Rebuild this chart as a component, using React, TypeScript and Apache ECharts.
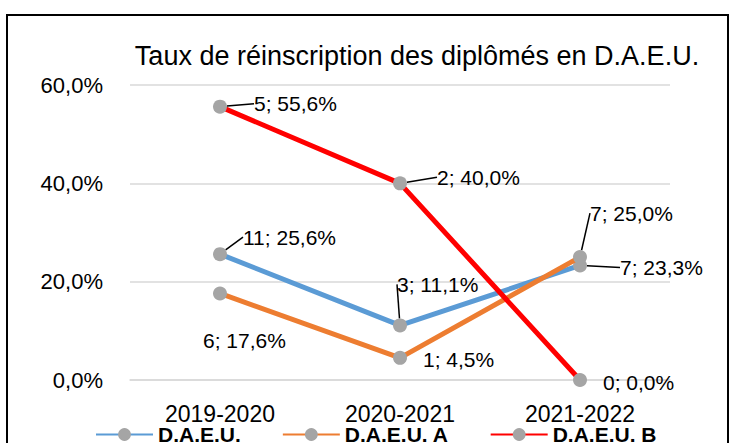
import React, { useEffect, useRef } from "react";
import * as echarts from "echarts";

const categories = ["2019-2020", "2020-2021", "2021-2022"];
const seriesNames = ["D.A.E.U.", "D.A.E.U. A", "D.A.E.U. B"];
const daeuValues = [25.6, 11.1, 23.3];
const daeuCounts = [11, 3, 7];
const daeuAValues = [17.6, 4.5, 25.0];
const daeuACounts = [6, 1, 7];
const daeuBValues = [55.6, 40.0, 0.0];
const daeuBCounts = [5, 2, 0];
const yTicks = [0, 20, 40, 60];

const colors = ["#5B9BD5", "#ED7D31", "#FF0000"];
const markerColor = "#A5A5A5";
const FONT = "Liberation Sans";

// label offsets (dx, dy) and whether a leader line is drawn
const labelOffsets = [
  [[11, -17, true], [-15, -41, true], [28, 2, true]],
  [[-29, 47, false], [11, 2, false], [-2, -44, true]],
  [[22, -3, true], [25, -6, true], [11, 2, false]],
];

const fmtPct = (v: number) => v.toFixed(1).replace(".", ",") + "%";

export default function App() {
  const ref = useRef<HTMLDivElement>(null);
  useEffect(() => {
    if (!ref.current) return;
    const chart = echarts.init(ref.current, null, { renderer: "svg" });
    const values = [daeuValues, daeuAValues, daeuBValues];
    const counts = [daeuCounts, daeuACounts, daeuBCounts];
    const series = values.map((vals, si) => ({
      name: seriesNames[si],
      type: "line",
      z: 2 + si,
      data: vals.map((v, i) => ({
        value: v,
        labelLine: {
          show: labelOffsets[si][i][2] as boolean,
          lineStyle: { color: "#000", width: 1.5 },
        },
      })),
      symbol: "circle",
      symbolSize: 14,
      itemStyle: { color: markerColor },
      lineStyle: { color: colors[si], width: 5 },
      label: {
        show: true,
        position: "right",
        distance: 5,
        fontFamily: FONT,
        fontSize: 21,
        color: "#000",
        formatter: (p: any) => `${counts[si][p.dataIndex]}; ${fmtPct(p.value)}`,
      },
      labelLine: { show: true, lineStyle: { color: "#000", width: 1.5 } },
      labelLayout: (p: any) => ({
        dx: labelOffsets[si][p.dataIndex][0] as number,
        dy: labelOffsets[si][p.dataIndex][1] as number,
      }),
      emphasis: { disabled: true },
    }));

    chart.setOption({
      animation: false,
      title: {
        text: "Taux de réinscription des diplômés en D.A.E.U.",
        left: 412,
        textAlign: "center",
        top: 37,
        textStyle: { fontFamily: FONT, fontSize: 27, fontWeight: "normal", color: "#000" },
      },
      legend: {
        data: seriesNames.map((n) => ({ name: n, itemStyle: { color: markerColor } })),
        left: 90,
        top: 419,
        itemWidth: 57,
        itemHeight: 16,
        itemGap: 41,
        textStyle: { fontFamily: FONT, fontSize: 21, fontWeight: "bold", color: "#000" },
      },
      grid: { left: 130, right: 62, top: 85, bottom: 63, containLabel: false },
      xAxis: {
        type: "category",
        data: categories,
        boundaryGap: true,
        axisLine: { show: true, lineStyle: { color: "#D9D9D9", width: 1.5 } },
        axisTick: { show: false },
        axisLabel: { fontFamily: FONT, fontSize: 23, color: "#000", margin: 22 },
      },
      yAxis: {
        type: "value",
        min: yTicks[0],
        max: yTicks[yTicks.length - 1],
        interval: yTicks[1] - yTicks[0],
        axisLine: { show: false },
        axisTick: { show: false },
        splitLine: { lineStyle: { color: "#D9D9D9", width: 1.5 } },
        axisLabel: {
          fontFamily: FONT,
          fontSize: 22,
          color: "#000",
          margin: 27,
          formatter: (v: number) => fmtPct(v),
        },
      },
      graphic: [
        {
          type: "rect",
          shape: { x: 7, y: 15, width: 721, height: 470 },
          style: { fill: "none", stroke: "#000", lineWidth: 2 },
          silent: true,
        },
      ],
      series,
    });
    return () => chart.dispose();
  }, []);
  return (
    <div
      ref={ref}
      style={{ position: "fixed", left: 0, top: 0, width: 732, height: 443, background: "#fff" }}
    />
  );
}
